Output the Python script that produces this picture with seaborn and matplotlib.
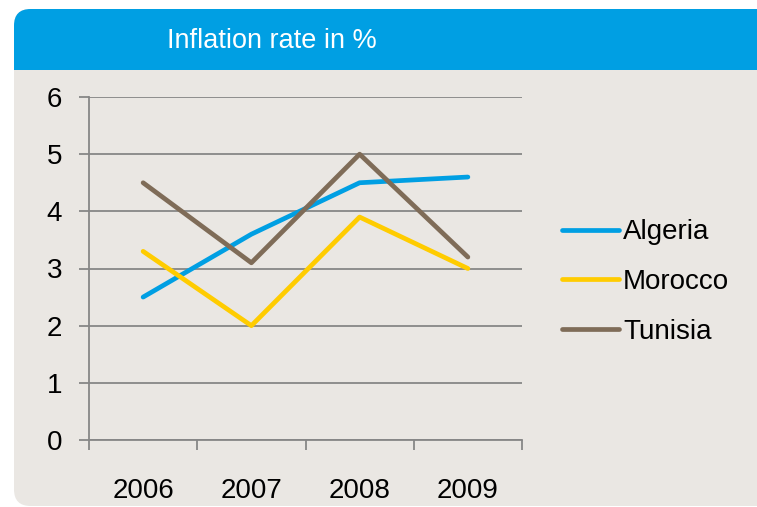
import matplotlib
matplotlib.use("Agg")
import matplotlib.pyplot as plt
from matplotlib.patches import FancyBboxPatch, Rectangle
import pandas as pd
import seaborn as sns

years = ["2006", "2007", "2008", "2009"]
algeria = [2.5, 3.6, 4.5, 4.6]
morocco = [3.3, 2.0, 3.9, 3.0]
tunisia = [4.5, 3.1, 5.0, 3.2]
countries = ["Algeria", "Morocco", "Tunisia"]
colors = ["#009FE3", "#FFCC00", "#7F6C58"]
title = "Inflation rate in %"

df = pd.DataFrame({
    "year": years * 3,
    "rate": algeria + morocco + tunisia,
    "country": [c for c in countries for _ in years],
})

sns.set_theme(style="white")
plt.rcParams["font.family"] = ["Liberation Sans", "DejaVu Sans"]
plt.rcParams["text.color"] = "black"

W, H = 757, 507
fig = plt.figure(figsize=(W / 100, H / 100), dpi=100)
fig.patch.set_facecolor("white")


def fx(x):
    return x / W


def fy(y):
    return 1 - y / H


panel_bg = "#EAE7E3"
banner = "#009FE3"

# grey panel with rounded left corners
fig.patches.append(FancyBboxPatch((fx(14), fy(506)), fx(790) - fx(14), fy(9) - fy(506),
                                  boxstyle="round,pad=0,rounding_size=0.022",
                                  transform=fig.transFigure, facecolor=panel_bg,
                                  edgecolor="none", zorder=-3, mutation_aspect=W / H))
# blue title banner
fig.patches.append(FancyBboxPatch((fx(14), fy(70)), fx(790) - fx(14), fy(9) - fy(70),
                                  boxstyle="round,pad=0,rounding_size=0.022",
                                  transform=fig.transFigure, facecolor=banner,
                                  edgecolor="none", zorder=-2, mutation_aspect=W / H))
fig.patches.append(Rectangle((fx(14), fy(70)), fx(790) - fx(14), fy(40) - fy(70),
                             transform=fig.transFigure, facecolor=banner,
                             edgecolor="none", zorder=-2))
fig.text(fx(272), fy(41), title, color="white", fontsize=19.5, ha="center", va="center")

ax = fig.add_axes([fx(89), fy(440), fx(522) - fx(89), fy(97) - fy(440)])
ax.set_zorder(5)
ax.set_facecolor("none")

sns.lineplot(data=df, x="year", y="rate", hue="country", palette=colors,
             linewidth=3.4, ax=ax, legend=False, zorder=3,
             solid_capstyle="round")

grid_c = "#878787"
ax.set_xlim(-0.5, 3.5)
ax.set_ylim(0, 6)
ax.set_yticks(range(0, 7))
ax.yaxis.grid(True, color=grid_c, linewidth=1.3)
ax.set_axisbelow(True)
for side in ["top", "right"]:
    ax.spines[side].set_visible(False)
for side in ["left", "bottom"]:
    ax.spines[side].set_color(grid_c)
    ax.spines[side].set_linewidth(1.3)

ax.set_xticks([-0.5, 0.5, 1.5, 2.5, 3.5])
ax.set_xticklabels([])
ax.set_xticks(range(len(years)), minor=True)
ax.set_xticklabels(years, minor=True)
ax.tick_params(axis="x", which="major", bottom=True, length=7.5, width=1.3,
               color=grid_c, direction="out")
ax.tick_params(axis="x", which="minor", bottom=True, length=0, pad=27,
               labelsize=20, labelcolor="black")
ax.tick_params(axis="y", left=True, length=7.5, width=1.3, color=grid_c, direction="out",
               pad=12, labelsize=20, labelcolor="black")
ax.set_xlabel("")
ax.set_ylabel("")

handles = [plt.Line2D([], [], color=c, linewidth=3.4, solid_capstyle="round") for c in colors]
leg = fig.legend(handles, countries, loc="center left", bbox_to_anchor=(fx(562), fy(282)),
                 frameon=False, fontsize=20, handlelength=2.05, handletextpad=0.15,
                 labelspacing=0.85, borderaxespad=0, borderpad=0)
for t in leg.get_texts():
    t.set_color("black")

fig.savefig("out.png", dpi=100, facecolor=fig.get_facecolor())
